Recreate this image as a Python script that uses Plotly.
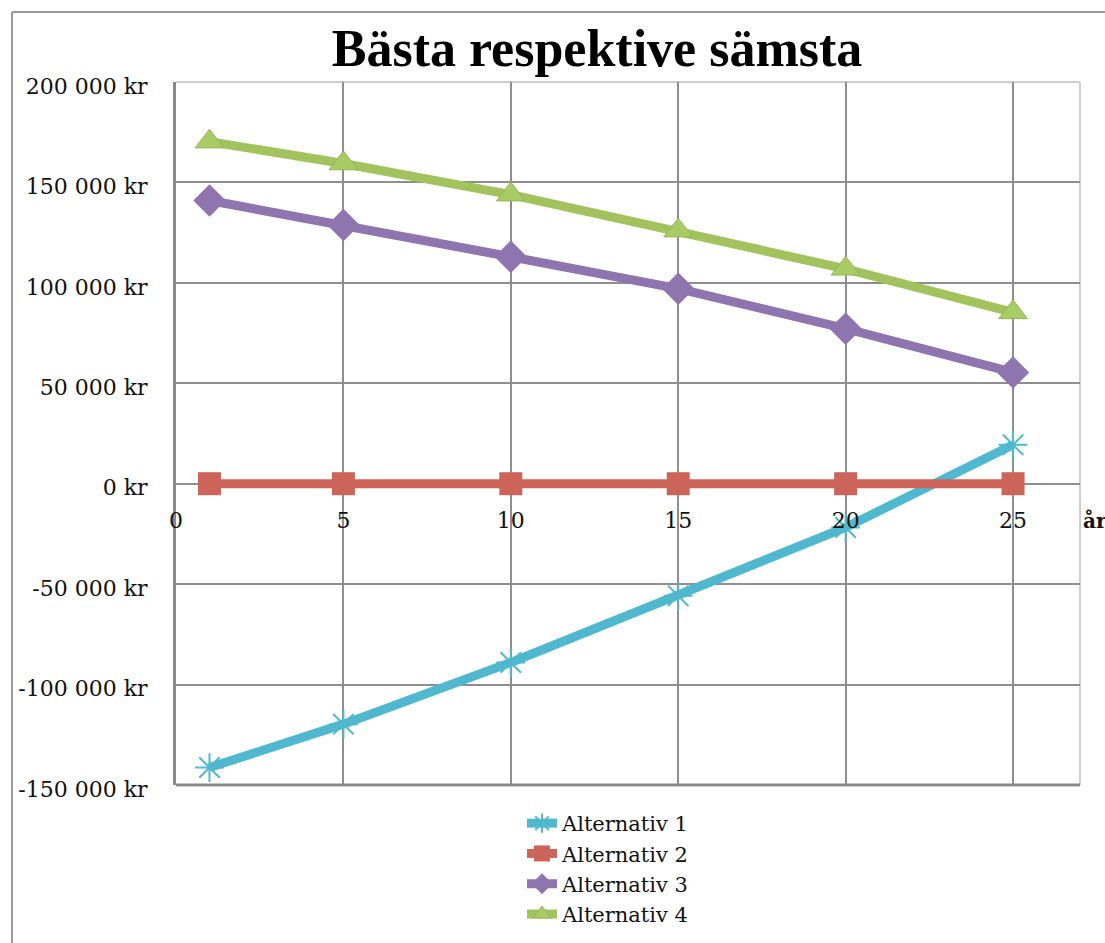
import plotly.graph_objects as go

# ---- data ----
years = [1, 5, 10, 15, 20, 25]
alt1 = [-141300, -119700, -89000, -55800, -21800, 19400]
alt2 = [0, 0, 0, 0, 0, 0]
alt3 = [141000, 128800, 113000, 97100, 77200, 55400]
alt4 = [170300, 159400, 143900, 126000, 107000, 85300]

series_names = ["Alternativ 1", "Alternativ 2", "Alternativ 3", "Alternativ 4"]
y_tick_vals = [-150000, -100000, -50000, 0, 50000, 100000, 150000, 200000]
y_tick_text = ["-150 000 kr", "-100 000 kr", "-50 000 kr", "0 kr",
               "50 000 kr", "100 000 kr", "150 000 kr", "200 000 kr"]
x_tick_vals = [0, 5, 10, 15, 20, 25]
x_tick_text = ["0", "5", "10", "15", "20", "25"]
title_text = "Bästa respektive sämsta"
x_title = "år"

# ---- layout geometry (page pixels) ----
W, H = 1105, 943
L, R, T, B = 176, 1080, 82, 785
pw, ph = R - L, B - T

def px_x(px):
    return (px - L) / pw

def px_y(py):
    return (B - py) / ph

Y_MIN, Y_MAX = -150000, 200000
X_MIN, X_MAX = 0, 27
zero_paper = (0 - Y_MIN) / (Y_MAX - Y_MIN)

TXT_FONT = "DejaVu Serif"
c1, c2, c3, c4 = "#4FB8CE", "#CC6459", "#8E75AF", "#A2C25D"
GRID = "#8e8e8e"

fig = go.Figure()

fig.add_trace(go.Scatter(
    x=years, y=alt1, name=series_names[0], mode="lines+markers",
    line=dict(color=c1, width=9),
    marker=dict(symbol="asterisk-open", size=24, color=c1, line=dict(color=c1, width=2)),
))
fig.add_trace(go.Scatter(
    x=years, y=alt2, name=series_names[1], mode="lines+markers",
    line=dict(color=c2, width=9),
    marker=dict(symbol="square", size=23, color=c2, line=dict(width=0)),
))
fig.add_trace(go.Scatter(
    x=years, y=alt3, name=series_names[2], mode="lines+markers",
    line=dict(color=c3, width=9),
    marker=dict(symbol="diamond", size=25, color=c3, line=dict(width=0)),
))
fig.add_trace(go.Scatter(
    x=years, y=alt4, name=series_names[3], mode="lines+markers",
    line=dict(color=c4, width=9),
    marker=dict(symbol="triangle-up", size=25, color="#A8CB66", line=dict(color="#95B555", width=1)),
))

fig.update_layout(
    width=W, height=H,
    margin=dict(l=L, r=W - R, t=T, b=H - B, autoexpand=False),
    paper_bgcolor="white", plot_bgcolor="white",
    title=dict(text=title_text, x=597 / W, xanchor="center",
               y=1 - 48 / H, yanchor="middle",
               font=dict(family="Liberation Serif", size=52, color="#000000", weight="bold")),
    font=dict(family=TXT_FONT, size=22, color="#111111"),
    showlegend=True,
    legend=dict(
        xref="container", yref="container",
        x=522 / W, xanchor="left", y=1 - 803 / H, yanchor="top",
        orientation="v", bgcolor="rgba(0,0,0,0)",
        font=dict(family=TXT_FONT, size=21, color="#111111"),
        tracegroupgap=0,
    ),
)

fig.update_yaxes(
    range=[Y_MIN, Y_MAX], tickvals=y_tick_vals, ticktext=y_tick_text,
    automargin=False,
    showgrid=True, gridcolor=GRID, gridwidth=2,
    zeroline=True, zerolinecolor=GRID, zerolinewidth=2,
    showline=True, linecolor="#8a8a8a", linewidth=3,
    ticks="", ticklabelstandoff=21, ticklabelshift=4,
    tickfont=dict(family=TXT_FONT, size=22, color="#111111"),
)
fig.update_xaxes(
    range=[X_MIN, X_MAX], tickvals=x_tick_vals, ticktext=x_tick_text,
    automargin=False,
    anchor="free", position=zero_paper,
    showgrid=True, gridcolor=GRID, gridwidth=2,
    zeroline=False, showline=False,
    ticks="", ticklabelstandoff=21,
    tickfont=dict(family=TXT_FONT, size=22, color="#111111"),
)

# plot frame: bottom (dark), top and right (light)
fig.add_shape(type="line", xref="paper", yref="paper", x0=0, x1=1, y0=0, y1=0,
              line=dict(color="#8a8a8a", width=3), layer="above")
fig.add_shape(type="line", xref="paper", yref="paper", x0=0, x1=1, y0=1, y1=1,
              line=dict(color="#cfcfcf", width=2), layer="below")
fig.add_shape(type="line", xref="paper", yref="paper", x0=1, x1=1, y0=0, y1=1,
              line=dict(color="#cfcfcf", width=2), layer="below")
# chart-area outer border (left and top)
fig.add_shape(type="line", xref="paper", yref="paper",
              x0=px_x(12), x1=px_x(12), y0=px_y(12), y1=px_y(H + 5),
              line=dict(color="#9a9a9a", width=2))
fig.add_shape(type="line", xref="paper", yref="paper",
              x0=px_x(12), x1=px_x(W + 5), y0=px_y(12), y1=px_y(12),
              line=dict(color="#9a9a9a", width=2))

fig.add_annotation(text=x_title, xref="paper", yref="paper",
                   x=px_x(1081), xanchor="left", y=px_y(521), yanchor="middle",
                   showarrow=False,
                   font=dict(family=TXT_FONT, size=20, color="#111111", weight="bold"))

fig.write_html(
    "out.html",
    config={"displayModeBar": False},
    post_script="document.body.style.margin='0px';document.body.style.overflow='hidden';",
)
